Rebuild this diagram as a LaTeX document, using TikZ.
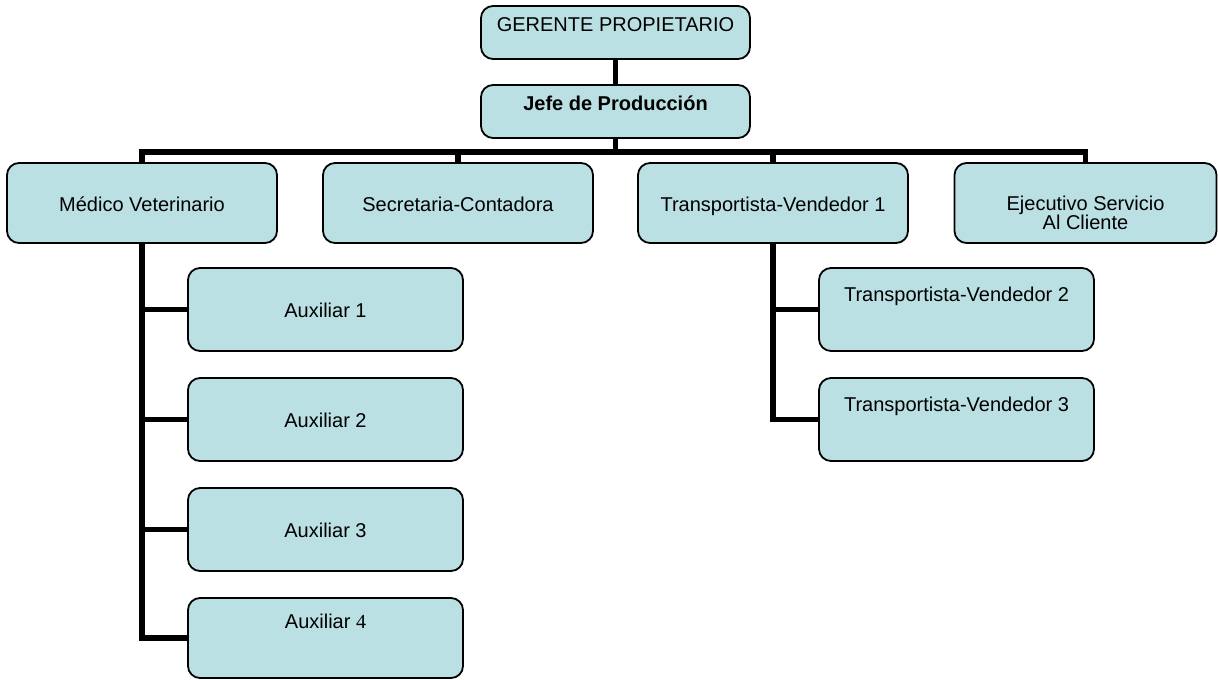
\documentclass[tikz,border=0pt]{standalone}
\usepackage{fontspec}
\setmainfont{Liberation Sans}
\newfontfamily\numserif{Liberation Serif}
\definecolor{celeste}{HTML}{BBE0E3}

\begin{document}
\begin{tikzpicture}[x=0.5pt, y=-0.5pt,
    cargo/.style={draw, rounded corners=6pt, fill=celeste, line width=0.9pt, inner ysep=0pt, align=center, font=\fontsize{10}{8.5}\selectfont},
    jefatura/.style={cargo, minimum width=134.5pt, text height=13pt, text depth=13.5pt},
    puesto/.style={cargo, minimum width=135pt, text height=24.5pt, text depth=15.5pt},
    auxiliar/.style={cargo, minimum width=137.5pt, text height=24.5pt, text depth=17pt},
    vendedor/.style={cargo, minimum width=137.5pt, text height=16.5pt, text depth=25pt},
    linea/.style={line width=2.8pt}]

    \useasboundingbox (0,0) rectangle (1218,679);

    \node (gerente) [jefatura] at (615.5,32.5) {GERENTE PROPIETARIO};
    \node (jefe)    [jefatura] at (615.5,111.5) {\textbf{Jefe de Producción}};

    \node (medico)     [puesto] at (142,203) {Médico Veterinario};
    \node (secretaria) [puesto] at (458,203) {Secretaria-Contadora};
    \node (transp1)    [puesto] at (773,203) {Transportista-Vendedor 1};
    \node (ejecutivo)  [puesto, minimum width=131pt, text height=33pt, text depth=7pt] at (1085.5,203) {Ejecutivo Servicio\\[-1pt]Al Cliente};

    \node (aux1) [auxiliar] at (325.5,309.5) {Auxiliar 1};
    \node (aux2) [auxiliar, below of=aux1, node distance=55pt] {Auxiliar 2};
    \node (aux3) [auxiliar, below of=aux2, node distance=55pt] {Auxiliar 3};
    \node (aux4) [cargo, minimum width=137.5pt, text height=15pt, text depth=25pt] at (325.5,638) {Auxiliar {\numserif 4}};

    \node (transp2) [vendedor] at (956.5,309.5) {Transportista-Vendedor 2};
    \node (transp3) [vendedor, below of=transp2, node distance=55pt] {Transportista-Vendedor 3};

    % lineas de mando
    \coordinate (bus) at (615.5,152);
    \draw [linea] (gerente) -- (jefe);
    \draw [linea] (jefe) -- (jefe |- bus);
    \draw [linea] (medico.north) |- (bus) -| (ejecutivo.north);
    \draw [linea] (secretaria.north) -- (secretaria.north |- bus);
    \draw [linea] (transp1.north) -- (transp1.north |- bus);

    \draw [linea] (medico.south) |- (aux4.west);
    \foreach \i in {1,2,3}
        \draw [linea] (medico.south |- aux\i.west) -- (aux\i.west);

    \draw [linea] (transp1.south) |- (transp3.west);
    \draw [linea] (transp1.south |- transp2.west) -- (transp2.west);

\end{tikzpicture}
\end{document}
